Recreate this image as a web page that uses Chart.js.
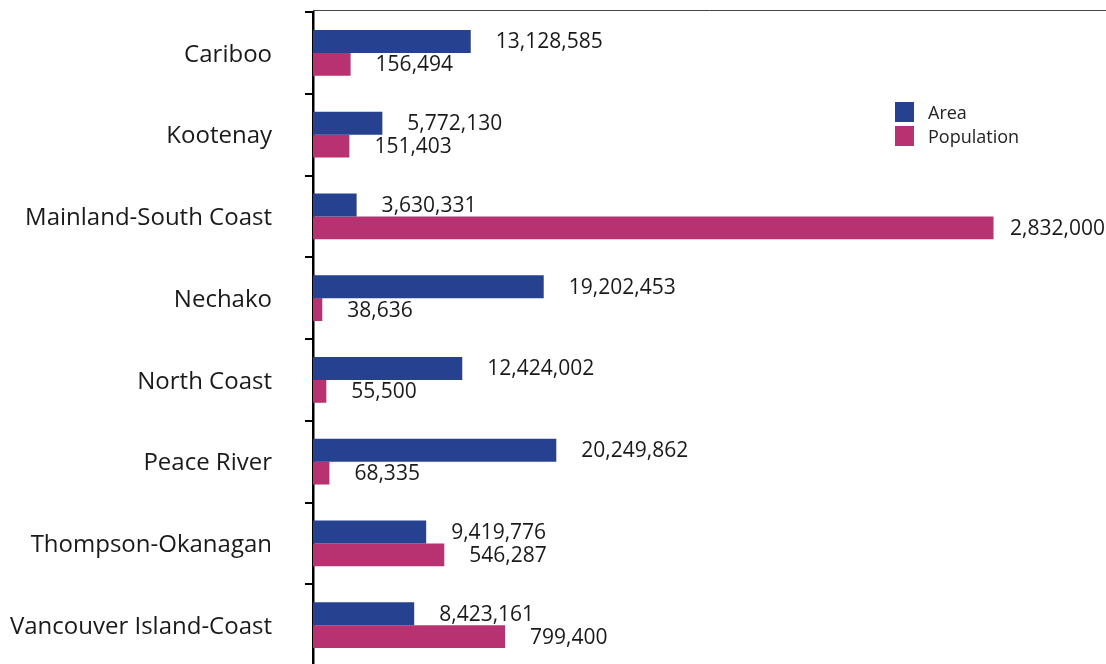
<!DOCTYPE html>
<html>
<head>
<meta charset="utf-8">
<script src="https://cdn.jsdelivr.net/npm/chart.js@4"></script>
<style>
    body { margin: 0; overflow: hidden; background: #fff; font-family: 'Open Sans', sans-serif; }
    #wrap { position: relative; width: 1106px; height: 666px; }
    .legend { position: absolute; left: 895px; top: 100px; font-size: 18px; color: #222; }
    .legend div { display: flex; align-items: center; height: 24px; }
    .legend span.box { display: inline-block; width: 19px; height: 20px; margin-right: 14px; }
</style>
</head>
<body>
<div id="wrap">
    <canvas id="region-chart"></canvas>
    <div class="legend">
        <div><span class="box" style="background:#26418f"></span>Area</div>
        <div><span class="box" style="background:#b83272"></span>Population</div>
    </div>
</div>
<script>
const regions = ['Cariboo', 'Kootenay', 'Mainland-South Coast', 'Nechako', 'North Coast', 'Peace River', 'Thompson-Okanagan', 'Vancouver Island-Coast'];
const areaValues = [13128585, 5772130, 3630331, 19202453, 12424002, 20249862, 9419776, 8423161];
const populationValues = [156494, 151403, 2832000, 38636, 55500, 68335, 546287, 799400];

const AREA_COLOR = '#26418f';
const POP_COLOR = '#b83272';

// подписи значений справа от столбцов + верхняя линия рамки
const valueLabels = {
    id: 'valueLabels',
    afterDatasetsDraw(chart) {
        const ctx = chart.ctx;
        const area = chart.chartArea;
        ctx.save();

        ctx.strokeStyle = '#444';
        ctx.lineWidth = 1;
        ctx.beginPath();
        ctx.moveTo(area.left, area.top - 1.5);
        ctx.lineTo(area.right, area.top - 1.5);
        ctx.stroke();

        ctx.font = '21px "Open Sans"';
        ctx.fillStyle = '#1a1a1a';
        ctx.textBaseline = 'middle';
        ctx.textAlign = 'left';
        chart.data.datasets.forEach((ds, i) => {
            const meta = chart.getDatasetMeta(i);
            meta.data.forEach((bar, j) => {
                const text = ds.data[j].toLocaleString('en-US');
                const w = ctx.measureText(text).width;
                const x = Math.min(bar.x + 25, chart.width - w - 1);
                ctx.fillText(text, x, bar.y + 1);
            });
        });
        ctx.restore();
    }
};

function renderChart() {
    const ctx = document.getElementById('region-chart').getContext('2d');

    new Chart(ctx, {
        type: 'bar',
        data: {
            labels: regions,
            datasets: [{
                label: 'Area',
                data: areaValues,
                xAxisID: 'xArea',
                backgroundColor: AREA_COLOR,
                categoryPercentage: 0.56,
                barPercentage: 1
            }, {
                label: 'Population',
                data: populationValues,
                xAxisID: 'xPop',
                backgroundColor: POP_COLOR,
                categoryPercentage: 0.56,
                barPercentage: 1
            }]
        },
        options: {
            indexAxis: 'y',
            responsive: true,
            maintainAspectRatio: false,
            animation: false,
            layout: { padding: { top: 12, right: 0, bottom: 0, left: 0 } },
            plugins: {
                legend: { display: false },
                tooltip: { enabled: false }
            },
            scales: {
                y: {
                    afterFit(scale) {
                        scale.width = 313;
                        scale.paddingTop = 0;
                        scale.paddingBottom = 0;
                    },
                    grid: {
                        drawOnChartArea: false,
                        drawTicks: true,
                        tickLength: 8,
                        color: '#000',
                        lineWidth: 2
                    },
                    border: { display: true, color: '#000', width: 2.5 },
                    ticks: {
                        color: '#1a1a1a',
                        padding: 33,
                        labelOffset: 2,
                        font: { family: 'Open Sans', size: 24 }
                    }
                },
                xArea: {
                    type: 'linear',
                    display: false,
                    min: 0,
                    max: 66000000
                },
                xPop: {
                    type: 'linear',
                    display: false,
                    min: 0,
                    max: 3300000
                }
            }
        },
        plugins: [valueLabels]
    });
}

document.addEventListener('DOMContentLoaded', renderChart);
</script>
</body>
</html>
